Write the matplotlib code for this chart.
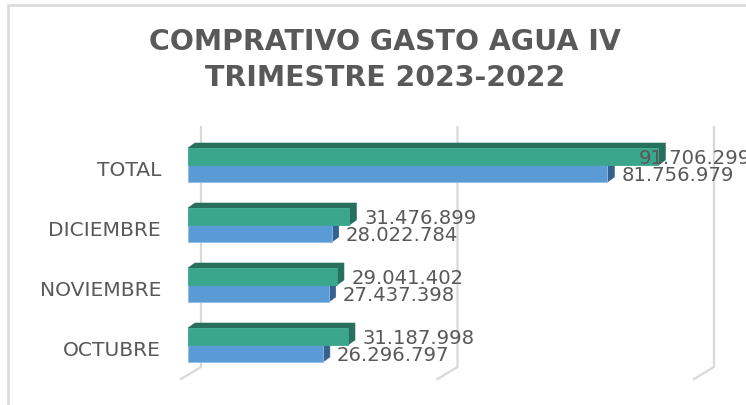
import matplotlib
matplotlib.use("Agg")
import matplotlib.pyplot as plt
from matplotlib.patches import Polygon

categories = ["OCTUBRE", "NOVIEMBRE", "DICIEMBRE", "TOTAL"]
gasto_2023 = [31187998, 29041402, 31476899, 91706299]
gasto_2022 = [26296797, 27437398, 28022784, 81756979]
grid_values = [0, 50000000, 100000000]
title_lines = ["COMPRATIVO GASTO AGUA IV", "TRIMESTRE 2023-2022"]

W, H = 746, 405
PX_PER_UNIT = 5.13e-6
X0, Y_OCT, ROW = 188, 345, 60
BAR_H = 17
DX, DY = 7, 5

plt.rcParams["font.family"] = ["DejaVu Sans"]
fig = plt.figure(figsize=(W / 100, H / 100), dpi=100, facecolor="white")
ax = fig.add_axes([0, 0, 1, 1])
ax.set_xlim(-X0 / PX_PER_UNIT, (W - X0) / PX_PER_UNIT)
ax.set_ylim((Y_OCT - H) / ROW, Y_OCT / ROW)
ax.axis("off")

ux = 1 / PX_PER_UNIT
uy = 1 / ROW
GRID = "#d9d9d9"
TEXT = "#595959"

for g in grid_values:
    rear = g + 13 * ux
    ax.plot([rear, rear, g - 7 * ux], [(Y_OCT - 127) * uy, (Y_OCT - 367) * uy, (Y_OCT - 379) * uy],
            color=GRID, lw=1.6, zorder=1, solid_joinstyle="miter")

# chart frame: left and top edges
ax.plot([(W - X0) * ux, -(X0 - 8) * ux, -(X0 - 8) * ux], [(Y_OCT - 5) * uy, (Y_OCT - 5) * uy, (Y_OCT - H) * uy],
        color=GRID, lw=1.8, zorder=1, solid_joinstyle="miter")


def bars3d(values, offset, front, side, top, edge):
    y = [i + offset for i in range(len(values))]
    ax.barh(y, values, height=BAR_H * uy, color=front, edgecolor=edge, linewidth=0.6, zorder=3)
    h = BAR_H * uy / 2
    for yi, v in zip(y, values):
        ax.add_patch(Polygon([(v, yi + h), (v + DX * ux, yi + h + DY * uy), (v + DX * ux, yi - h + DY * uy), (v, yi - h)],
                             facecolor=side, edgecolor=side, lw=0.4, zorder=2.6))
        ax.add_patch(Polygon([(0, yi + h), (DX * ux, yi + h + DY * uy), (v + DX * ux, yi + h + DY * uy), (v, yi + h)],
                             facecolor=top, edgecolor=top, lw=0.4, zorder=2.6))


bars3d(gasto_2022, -BAR_H * uy / 2, "#5b9bd5", "#34618f", "#34618f", "#8fbce6")
bars3d(gasto_2023, BAR_H * uy / 2, "#3aa78d", "#27705e", "#27705e", "#3aa78d")


def fmt(v):
    return f"{v:,}".replace(",", ".")


for i, (a, b) in enumerate(zip(gasto_2023, gasto_2022)):
    ax.text(a + 15 * ux if i < 3 else a - 20 * ux, i + 7 * uy, fmt(a), fontsize=14.1, color=TEXT, va="center", ha="left", zorder=5)
    ax.text(b + 14 * ux, i - 10.5 * uy, fmt(b), fontsize=14.1, color=TEXT, va="center", ha="left", zorder=5)
    ax.text(-27 * ux, i - 5 * uy, categories[i], fontsize=14.6, color=TEXT, va="center", ha="right", zorder=5)

for line, py in zip(title_lines, [42, 78]):
    ax.text((385 - X0) * ux, (Y_OCT - py) * uy, line, fontsize=20.4, fontweight="bold", color=TEXT,
            ha="center", va="center", zorder=5)

fig.savefig("out.png", dpi=100)
